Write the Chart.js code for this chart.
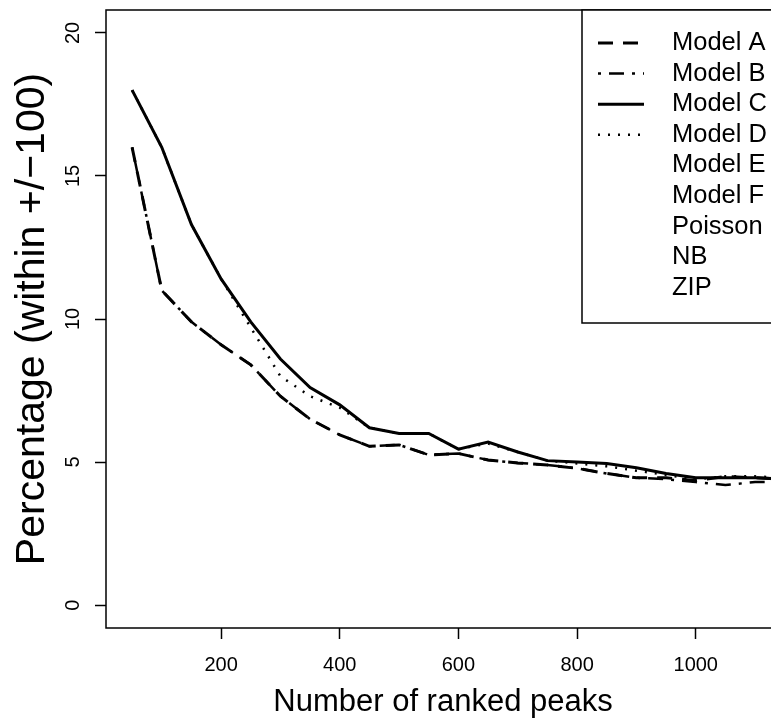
<!DOCTYPE html>
<html>
<head>
<meta charset="utf-8">
<script src="https://cdn.jsdelivr.net/npm/chart.js@4/dist/chart.umd.min.js"></script>
<style>
  html, body { margin: 0; padding: 0; background: #fff; }
  #wrap { width: 771px; height: 723px; overflow: hidden; }
  canvas { display: block; }
</style>
</head>
<body>
<div id="wrap"><canvas id="chart" width="790" height="723"></canvas></div>
<script>
// x values: number of ranked peaks
const peaks = [50, 100, 150, 200, 250, 300, 350, 400, 450, 500, 550,
               600, 650, 700, 750, 800, 850, 900, 950, 1000, 1050, 1100, 1150];

const modelA = [16, 11, 9.9, 9.1, 8.4, 7.3, 6.5, 5.95, 5.55, 5.6, 5.25,
                5.3, 5.07, 4.97, 4.9, 4.78, 4.6, 4.45, 4.45, 4.35, 4.5, 4.45, 4.4];
const modelB = [16, 11, 9.9, 9.1, 8.4, 7.3, 6.5, 5.95, 5.55, 5.6, 5.25,
                5.3, 5.07, 4.97, 4.9, 4.78, 4.6, 4.45, 4.4, 4.3, 4.2, 4.3, 4.3];
const modelC = [18, 16, 13.3, 11.4, 9.9, 8.6, 7.6, 7.0, 6.2, 6.0, 6.0,
                5.45, 5.7, 5.35, 5.05, 5.0, 4.95, 4.8, 4.6, 4.45, 4.45, 4.45, 4.4];
const modelD = [18, 16, 13.3, 11.4, 9.7, 8.0, 7.3, 6.9, 6.2, 6.0, 6.0,
                5.45, 5.65, 5.35, 5.05, 4.95, 4.85, 4.7, 4.55, 4.4, 4.5, 4.5, 4.45];

const legendLabels = ['Model A', 'Model B', 'Model C', 'Model D', 'Model E',
                      'Model F', 'Poisson', 'NB', 'ZIP'];
const xTicks = [200, 400, 600, 800, 1000];
const yTicks = [0, 5, 10, 15, 20];

const FONT = "'Liberation Sans', Arial, Helvetica, sans-serif";

function pts(ys) {
    return ys.map((y, i) => ({x: peaks[i], y: y}));
}

function ds(label, ys, dash, width) {
    return {
        label: label,
        data: pts(ys),
        borderColor: '#000',
        borderWidth: width,
        borderDash: dash,
        pointRadius: 0,
        fill: false,
        tension: 0,
        clip: false
    };
}

// box round the plot, rotated y tick labels, and legend
const extras = {
    id: 'extras',
    afterDraw(chart) {
        const ctx = chart.ctx;
        const a = chart.chartArea;
        ctx.save();
        ctx.strokeStyle = '#000';
        ctx.lineWidth = 1.5;
        ctx.strokeRect(a.left, a.top, a.right - a.left, a.bottom - a.top);

        // y tick labels, rotated like R
        const ys = chart.scales.y;
        ctx.fillStyle = '#000';
        ctx.font = '20px ' + FONT;
        ctx.textAlign = 'center';
        ctx.textBaseline = 'middle';
        ys.ticks.forEach(t => {
            ctx.save();
            ctx.translate(73, ys.getPixelForValue(t.value));
            ctx.rotate(-Math.PI / 2);
            ctx.fillText(String(t.value), 0, 0);
            ctx.restore();
        });

        // legend
        const lx = 582, ly = 10, lh = 313;
        ctx.fillStyle = '#fff';
        ctx.fillRect(lx, ly, 260, lh);
        ctx.lineWidth = 1.5;
        ctx.strokeRect(lx, ly, 260, lh);
        ctx.font = '25.5px ' + FONT;
        ctx.textAlign = 'left';
        ctx.fillStyle = '#000';
        legendLabels.forEach((lab, i) => {
            const y = 43 + i * 30.6;
            const d = chart.data.datasets.find(s => s.label === lab);
            if (d) {
                ctx.save();
                ctx.strokeStyle = '#000';
                ctx.lineWidth = d.borderWidth;
                ctx.setLineDash(d.borderDash);
                ctx.beginPath();
                ctx.moveTo(598, y);
                ctx.lineTo(644, y);
                ctx.stroke();
                ctx.restore();
            }
            ctx.fillText(lab, 672, y);
        });
        ctx.restore();
    }
};

new Chart(document.getElementById('chart'), {
    type: 'line',
    data: {
        datasets: [
            ds('Model D', modelD, [2, 8], 2.5),
            ds('Model C', modelC, [], 3),
            ds('Model A', modelA, [15, 10], 3),
            ds('Model B', modelB, [3, 8, 15, 8], 2.5)
        ]
    },
    options: {
        responsive: false,
        animation: false,
        layout: {padding: {top: 10, right: 10, left: 0, bottom: 0}},
        plugins: {legend: {display: false}, tooltip: {enabled: false}},
        scales: {
            x: {
                type: 'linear',
                min: 6,
                max: 1142,
                afterBuildTicks: s => { s.ticks = xTicks.map(v => ({value: v})); },
                afterFit: s => { s.height = 95; },
                grid: {drawOnChartArea: false, tickLength: 11, tickColor: '#000', tickWidth: 1.5},
                border: {display: false},
                ticks: {color: '#000', font: {size: 20, family: FONT}, padding: 14, maxRotation: 0,
                        callback: v => String(v)},
                title: {display: true, text: 'Number of ranked peaks', color: '#000',
                        font: {size: 31, family: FONT, lineHeight: 1}, padding: {top: 0, bottom: 5}}
            },
            y: {
                type: 'linear',
                min: -0.8,
                max: 20.8,
                afterBuildTicks: s => { s.ticks = yTicks.map(v => ({value: v})); },
                afterFit: s => { s.width = 106; },
                grid: {drawOnChartArea: false, tickLength: 11, tickColor: '#000', tickWidth: 1.5},
                border: {display: false},
                ticks: {display: false},
                title: {display: true, text: 'Percentage (within +/\u2212100)', color: '#000',
                        font: {size: 41, family: FONT, lineHeight: 1}, padding: {top: 12, bottom: 0}}
            }
        }
    },
    plugins: [extras]
});
</script>
</body>
</html>
